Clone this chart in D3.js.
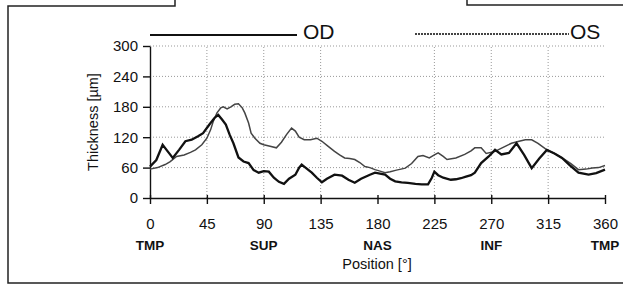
<!DOCTYPE html>
<html>
<head>
<meta charset="utf-8">
<style type="text/css">
body { margin: 0; background: #fff; }
svg { font-family: "Liberation Sans", Arial, sans-serif; }
.grid line { stroke: #999; stroke-width: 1; stroke-dasharray: 1,2; }
.axis path, .axis line { stroke: #111; stroke-width: 1.4; }
.axis text { font-size: 15px; fill: #111; }
.od { stroke: #111; stroke-width: 2.3; fill: none; }
.os { stroke: #444; stroke-width: 1.5; fill: none; }
</style>
<script src="https://d3js.org/d3.v7.min.js"></script>
</head>
<body>
<script type="text/javascript">
var width = 623;
var height = 286;

// OD (right eye), position in degrees and thickness in µm
var odAngles = [0,5,10,14,18,23,28,33,38,42,47,51,54,57,60,63,66,70,74,78,82,86,90,94,98,102,106,110,115,118,120,124,128,132,136,140,146,152,157,162,167,174,178,182,186,190,194,199,204,210,215,220,223,225,228,232,238,242,246,250,254,257,262,268,273,278,284,290,296,302,308,314,320,326,332,339,347,353,360];
var odValues = [62,75,105,92,79,95,112,115,122,128,145,158,164,155,145,125,108,80,72,69,55,50,53,52,40,32,28,38,46,60,66,58,50,40,31,38,46,44,36,30,38,46,50,48,46,38,33,31,30,28,27,27,40,52,45,40,36,37,39,42,45,50,69,82,95,86,89,108,85,59,78,95,88,79,65,50,46,49,56];

// OS (left eye)
var osAngles = [0,6,12,16,21,27,32,36,41,45,48,50,53,56,58,61,64,67,70,73,75,78,80,83,87,90,95,100,104,108,112,115,118,122,127,132,136,141,146,150,154,158,162,166,170,174,178,182,186,190,195,202,207,212,216,221,225,228,232,235,242,249,254,257,262,266,273,281,286,292,297,302,307,314,320,328,333,339,345,350,355,360];
var osValues = [57,60,66,72,82,85,90,95,105,118,135,151,168,178,180,176,180,185,186,178,168,148,128,118,108,105,102,99,110,125,138,132,120,115,115,118,112,102,92,85,79,78,76,70,62,60,56,53,50,52,55,59,68,82,84,79,85,89,82,76,79,86,93,99,99,88,92,102,108,112,115,115,108,95,88,76,68,56,57,59,60,64];

var xTicks = [0,45,90,135,180,225,270,315,360];
var yTicks = [0,60,120,180,240,300];
var xGrid = [45,90,135,225,270,315];
var regions = ["TMP","SUP","NAS","INF","TMP"];
var regionAngles = [0,90,180,270,360];

var svg = d3.select("body").append("svg").attr("width", width).attr("height", height);

// scanned panel frame
svg.append("path")
	.attr("d", "M175,0V6H8V283H623")
	.attr("fill", "none").attr("stroke", "#222").attr("stroke-width", 1.5);
svg.append("path")
	.attr("d", "M467,0V5H623")
	.attr("fill", "none").attr("stroke", "#222").attr("stroke-width", 1.5);

var x = d3.scaleLinear().domain([0, 360]).range([150, 605]);
var y = d3.scaleLinear().domain([0, 300]).range([198, 46]);

var grid = svg.append("g").attr("class", "grid");
grid.selectAll(".h").data(yTicks.slice(1)).enter().append("line")
	.attr("x1", x(0)).attr("x2", x(360))
	.attr("y1", function(d){ return y(d); }).attr("y2", function(d){ return y(d); });
grid.selectAll(".v").data(xGrid).enter().append("line")
	.attr("x1", function(d){ return x(d); }).attr("x2", function(d){ return x(d); })
	.attr("y1", y(0)).attr("y2", y(300));

var xAxis = svg.append("g").attr("class", "axis")
	.attr("transform", "translate(0," + y(0) + ")")
	.call(d3.axisBottom(x).tickValues(xTicks).tickSizeInner(6).tickSizeOuter(0).tickPadding(14));
xAxis.selectAll(".tick line").attr("y1", -3).attr("y2", 6);

svg.append("g").attr("class", "axis")
	.attr("transform", "translate(" + x(0) + ",0)")
	.call(d3.axisLeft(y).tickValues(yTicks).tickSizeInner(7).tickSizeOuter(0).tickPadding(5));

svg.selectAll(".region").data(regions).enter().append("text")
	.attr("x", function(d, i){ return x(regionAngles[i]); })
	.attr("y", 250)
	.attr("text-anchor", "middle")
	.attr("font-size", "13.5px").attr("font-weight", "bold").attr("fill", "#111")
	.text(function(d){ return d; });

svg.append("text").attr("x", 377).attr("y", 269).attr("text-anchor", "middle")
	.attr("font-size", "14.5px").attr("fill", "#111").text("Position [°]");

svg.append("text")
	.attr("transform", "translate(98,122) rotate(-90)")
	.attr("text-anchor", "middle")
	.attr("font-size", "14.5px").attr("fill", "#111").text("Thickness [µm]");

var lineOD = d3.line()
	.x(function(d, i){ return x(odAngles[i]); })
	.y(function(d){ return y(d); });
var lineOS = d3.line()
	.x(function(d, i){ return x(osAngles[i]); })
	.y(function(d){ return y(d); });

svg.append("path").datum(osValues).attr("class", "os").attr("d", lineOS);
svg.append("path").datum(odValues).attr("class", "od").attr("d", lineOD);

// legend
svg.append("line").attr("x1", 150).attr("x2", 297).attr("y1", 35).attr("y2", 35)
	.attr("stroke", "#111").attr("stroke-width", 2.2);
svg.append("text").attr("x", 303).attr("y", 39).attr("font-size", "21px").attr("fill", "#111").text("OD");
svg.append("line").attr("x1", 415).attr("x2", 569).attr("y1", 34).attr("y2", 34)
	.attr("stroke", "#444").attr("stroke-width", 1.8).attr("stroke-dasharray", "2,1");
svg.append("text").attr("x", 570).attr("y", 39).attr("font-size", "21px").attr("fill", "#111").text("OS");
</script>
</body>
</html>
